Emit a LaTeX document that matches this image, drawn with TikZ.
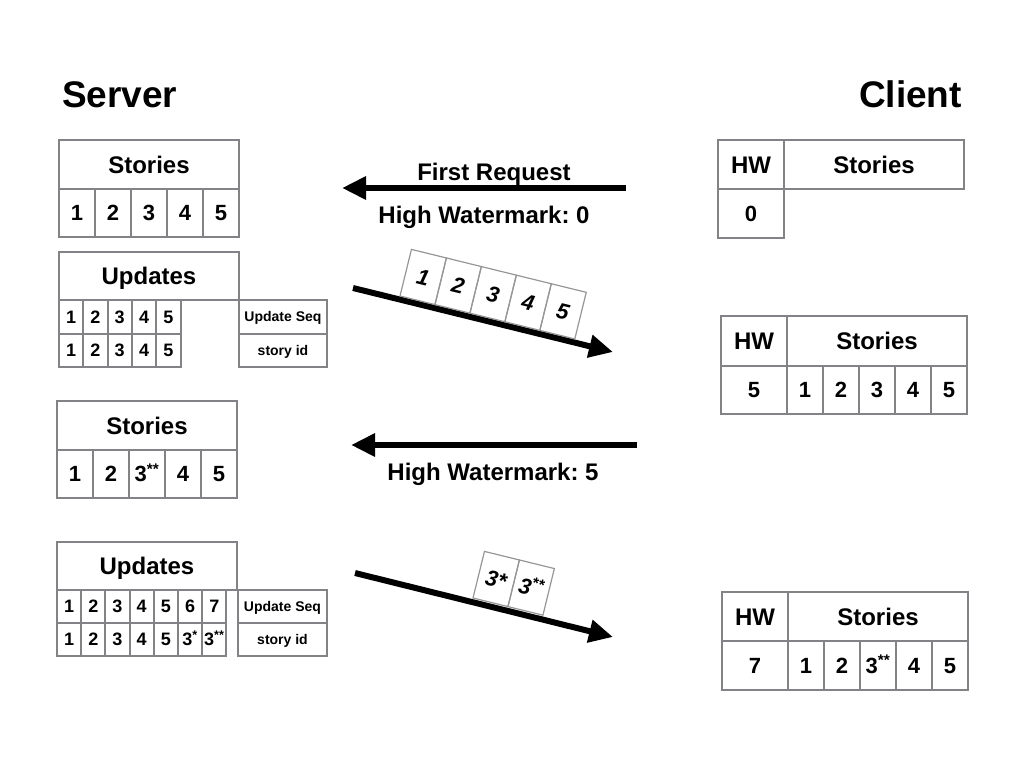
\documentclass[tikz,border=0pt]{standalone}
\usepackage{fontspec}
\setmainfont{Liberation Sans}
\usetikzlibrary{arrows.meta}
\definecolor{boxgray}{RGB}{130,131,135}
\definecolor{tiltgray}{RGB}{150,150,152}
\newcommand{\fsz}[1]{\fontsize{#1}{#1}\selectfont}
\frenchspacing

\begin{document}
\begin{tikzpicture}[x=1pt,y=-1pt]
            \tikzset{box/.style={draw=boxgray, line width=2pt, inner sep=0pt, outer sep=0pt, anchor=north west, text height=15.8pt, text depth=0pt, font=\bfseries\fsz{22}}};
            \tikzset{cell/.style={box, minimum width=36pt, minimum height=48pt}};
            \tikzset{head/.style={box, minimum width=180pt, minimum height=49pt, text height=17.2pt, font=\bfseries\fsz{24}}};
            \tikzset{hw/.style={box, minimum width=66pt, minimum height=49pt}};
            \tikzset{small/.style={box, minimum width=24.3pt, minimum height=33.5pt, text height=12.9pt, font=\bfseries\fsz{18}}};
            \tikzset{tag/.style={box, minimum width=88pt, minimum height=33.5pt, text height=10pt, font=\bfseries\fsz{14}}};
            \tikzset{tilt/.style={draw=tiltgray, line width=1.2pt, inner sep=0pt, outer sep=0pt, minimum width=36pt, minimum height=48pt, rotate=-13.8, anchor=south west, text height=15.8pt, text depth=0pt, font=\bfseries\itshape\fsz{22}}};
            \tikzset{title/.style={inner sep=0pt, font=\bfseries\fsz{37}}};
            \tikzset{msg/.style={inner sep=0pt, anchor=base, font=\bfseries\fsz{24}}};
            \tikzset{line/.style={line width=6pt, -{Triangle[length=24pt,width=22pt]}}};

            \useasboundingbox (0,0) rectangle (1024,768);

            \node[title, anchor=base west] (server) at (62,107) {Server};
            \node[title, anchor=base east] (client) at (962,107) {Client};

            % server stories
            \node[head] (sh1) at (59,140) {Stories};
            \node[cell] (sa1) at (sh1.south west) {1};
            \node[cell] (sa2) at (sa1.north east) {2};
            \node[cell] (sa3) at (sa2.north east) {3};
            \node[cell] (sa4) at (sa3.north east) {4};
            \node[cell] (sa5) at (sa4.north east) {5};

            % server updates
            \node[head, minimum height=48pt] (uh1) at (59,252) {Updates};
            \node[small] (ua1) at (uh1.south west) {1};
            \node[small] (ua2) at (ua1.north east) {2};
            \node[small] (ua3) at (ua2.north east) {3};
            \node[small] (ua4) at (ua3.north east) {4};
            \node[small] (ua5) at (ua4.north east) {5};
            \node[small] (ub1) at (ua1.south west) {1};
            \node[small] (ub2) at (ub1.north east) {2};
            \node[small] (ub3) at (ub2.north east) {3};
            \node[small] (ub4) at (ub3.north east) {4};
            \node[small] (ub5) at (ub4.north east) {5};
            \node[tag] (useq1) at (uh1.south east) {Update Seq};
            \node[tag] (uid1) at (useq1.south west) {story id};

            % server stories after update
            \node[head] (sh2) at (57,401) {Stories};
            \node[cell] (sb1) at (sh2.south west) {1};
            \node[cell] (sb2) at (sb1.north east) {2};
            \node[cell] (sb3) at (sb2.north east) {3\textsuperscript{**}};
            \node[cell] (sb4) at (sb3.north east) {4};
            \node[cell] (sb5) at (sb4.north east) {5};

            \node[head, minimum height=48pt] (uh2) at (57,542) {Updates};
            \node[small, minimum width=24.2pt, minimum height=33pt] (uc1) at (uh2.south west) {1};
            \node[small, minimum width=24.2pt, minimum height=33pt] (uc2) at (uc1.north east) {2};
            \node[small, minimum width=24.2pt, minimum height=33pt] (uc3) at (uc2.north east) {3};
            \node[small, minimum width=24.2pt, minimum height=33pt] (uc4) at (uc3.north east) {4};
            \node[small, minimum width=24.2pt, minimum height=33pt] (uc5) at (uc4.north east) {5};
            \node[small, minimum width=24.2pt, minimum height=33pt] (uc6) at (uc5.north east) {6};
            \node[small, minimum width=24.2pt, minimum height=33pt] (uc7) at (uc6.north east) {7};
            \node[small, minimum width=24.2pt, minimum height=33pt] (ud1) at (uc1.south west) {1};
            \node[small, minimum width=24.2pt, minimum height=33pt] (ud2) at (ud1.north east) {2};
            \node[small, minimum width=24.2pt, minimum height=33pt] (ud3) at (ud2.north east) {3};
            \node[small, minimum width=24.2pt, minimum height=33pt] (ud4) at (ud3.north east) {4};
            \node[small, minimum width=24.2pt, minimum height=33pt] (ud5) at (ud4.north east) {5};
            \node[small, minimum width=24.2pt, minimum height=33pt] (ud6) at (ud5.north east) {3\textsuperscript{*}};
            \node[small, minimum width=24.2pt, minimum height=33pt] (ud7) at (ud6.north east) {3\textsuperscript{**}};
            \node[tag, minimum width=89pt, minimum height=33pt] (useq2) at (238,590) {Update Seq};
            \node[tag, minimum width=89pt, minimum height=33pt] (uid2) at (useq2.south west) {story id};

            % client
            \node[hw, text height=17.2pt, font=\bfseries\fsz{24}] (hw1) at (718,140) {HW};
            \node[head] (ch1) at (hw1.north east) {Stories};
            \node[hw] (hv1) at (hw1.south west) {0};

            \node[hw, minimum height=50pt, text height=17.2pt, font=\bfseries\fsz{24}] (hw2) at (721,316) {HW};
            \node[head, minimum height=50pt] (ch2) at (hw2.north east) {Stories};
            \node[hw, minimum height=48pt] (hv2) at (hw2.south west) {5};
            \node[cell] (ca1) at (ch2.south west) {1};
            \node[cell] (ca2) at (ca1.north east) {2};
            \node[cell] (ca3) at (ca2.north east) {3};
            \node[cell] (ca4) at (ca3.north east) {4};
            \node[cell] (ca5) at (ca4.north east) {5};

            \node[hw, text height=17.2pt, font=\bfseries\fsz{24}] (hw3) at (722,592) {HW};
            \node[head] (ch3) at (hw3.north east) {Stories};
            \node[hw] (hv3) at (hw3.south west) {7};
            \node[cell, minimum height=49pt] (cb1) at (ch3.south west) {1};
            \node[cell, minimum height=49pt] (cb2) at (cb1.north east) {2};
            \node[cell, minimum height=49pt] (cb3) at (cb2.north east) {3\textsuperscript{**}};
            \node[cell, minimum height=49pt] (cb4) at (cb3.north east) {4};
            \node[cell, minimum height=49pt] (cb5) at (cb4.north east) {5};

            % requests and replies
            \coordinate (q1s) at (626,188);
            \coordinate (q1e) at (342,188);
            \draw[line] (q1s) -- (q1e);
            \node[msg] (req1) at (494,180) {First Request};
            \node[msg] (wm1) at (484,223) {High Watermark: 0};

            \coordinate (p1s) at (353,288);
            \coordinate (p1e) at (613,352);
            \draw[line] (p1s) -- (p1e);
            \node[tilt] (ta1) at (400,296) {1};
            \node[tilt] (ta2) at (ta1.south east) {2};
            \node[tilt] (ta3) at (ta2.south east) {3};
            \node[tilt] (ta4) at (ta3.south east) {4};
            \node[tilt] (ta5) at (ta4.south east) {5};

            \coordinate (q2s) at (637,445);
            \coordinate (q2e) at (351,445);
            \draw[line] (q2s) -- (q2e);
            \node[msg] (wm2) at (493,480) {High Watermark: 5};

            \coordinate (p2s) at (355,573);
            \coordinate (p2e) at (613,637);
            \draw[line] (p2s) -- (p2e);
            \node[tilt] (tb1) at (473,598) {3*};
            \node[tilt] (tb2) at (tb1.south east) {3\textsuperscript{**}};
\end{tikzpicture}
\end{document}
